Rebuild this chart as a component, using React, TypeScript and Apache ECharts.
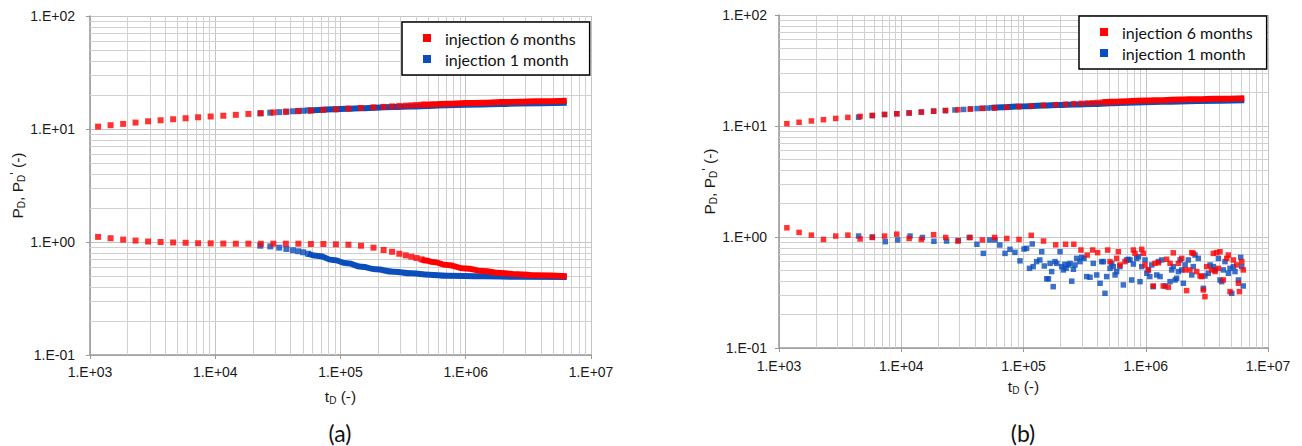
import React, { useEffect, useRef } from "react";
import * as echarts from "echarts";

// ---------- data ----------
const SERIES_6M = "injection 6 months";
const SERIES_1M = "injection 1 month";

// log-spaced time steps of the 6-month run (red discrete markers)
const redT = [1160, 1460, 1840, 2310, 2910, 3660, 4610, 5800, 7300, 9190, 11600, 14600, 18400, 23100, 29100, 36600, 46100, 58000, 73000, 91900, 115700, 145700, 183400, 221000, 258000, 295000, 332000, 368000, 404000, 443000];
// (a) red P_D and P_D' at those times
const aRedUpper = [10.5, 10.8, 11.1, 11.4, 11.7, 11.95, 12.2, 12.45, 12.7, 12.9, 13.1, 13.35, 13.6, 13.8, 14.0, 14.2, 14.4, 14.55, 14.75, 14.95, 15.15, 15.35, 15.55, 15.7, 15.85, 16.0, 16.1, 16.2, 16.3, 16.4];
const aRedLower = [1.11, 1.08, 1.05, 1.03, 1.01, 1.0, 0.99, 0.985, 0.975, 0.973, 0.968, 0.966, 0.966, 0.965, 0.966, 0.966, 0.966, 0.96, 0.96, 0.954, 0.947, 0.927, 0.891, 0.85, 0.82, 0.787, 0.762, 0.741, 0.721, 0.702];
// dense (overlapping) part of the red markers
const redBandT = [443000, 480000, 547000, 710000, 990000, 1370000, 1900000, 2640000, 3670000, 6400000];
const redBandUpper = [16.4, 16.45, 16.55, 16.75, 16.95, 17.1, 17.3, 17.45, 17.6, 17.8];
const aRedBandLower = [0.702, 0.685, 0.665, 0.626, 0.584, 0.553, 0.532, 0.518, 0.507, 0.497];

// 1-month run (blue)
const blueT = [22900, 27500, 32400, 37000, 41700, 46000, 50400, 54900];
const blueUpper = [13.75, 13.95, 14.1, 14.25, 14.35, 14.45, 14.5, 14.6];
const aBlueLower = [0.927, 0.914, 0.891, 0.867, 0.845, 0.828, 0.811, 0.787];
const blueBandT = [54900, 66900, 87000, 113000, 147000, 191000, 265000, 368000, 512000, 710000, 1370000, 2640000, 6400000];
const blueBandUpper = [14.6, 14.75, 14.95, 15.1, 15.3, 15.45, 15.65, 15.8, 16.0, 16.2, 16.5, 16.8, 17.05];
const aBlueBandLower = [0.787, 0.752, 0.693, 0.648, 0.604, 0.573, 0.546, 0.528, 0.514, 0.504, 0.497, 0.493, 0.49];

// (b) early blue P_D markers
const bBlueEarlyT = [4480, 5800, 7300, 9190, 11600, 14600, 18400];
const bBlueEarlyUpper = [12.0, 12.4, 12.7, 12.9, 13.1, 13.35, 13.6];

// (b) noisy derivative, red: [tD, PD']
const bRedLower: [number, number][] = [
  [1160, 1.21], [1460, 1.10], [1840, 1.04], [2310, 0.95], [2910, 1.02], [3660, 1.04], [4610, 0.96], [5800, 0.99],
  [7300, 1.02], [9190, 1.06], [11600, 0.97], [14600, 0.95], [18400, 1.05], [23100, 0.99], [29100, 0.92], [36600, 0.99],
  [46100, 0.94], [58000, 0.99], [73000, 0.97], [91900, 0.95], [115700, 1.035], [145700, 0.92], [183400, 0.85], [221000, 0.86],
  [258000, 0.86], [295000, 0.763], [332000, 0.688], [368000, 0.763], [404000, 0.723], [488000, 0.763], [510000, 0.60], [578000, 0.642],
  [597000, 0.737], [615000, 0.56], [676000, 0.60], [792000, 0.763], [817000, 0.712], [927000, 0.774], [955000, 0.712], [986000, 0.56],
  [1050000, 0.505], [1150000, 0.362], [1190000, 0.579], [1270000, 0.587], [1390000, 0.362], [1480000, 0.63], [1530000, 0.353], [1580000, 0.579],
  [1680000, 0.72], [1850000, 0.579], [1970000, 0.642], [2100000, 0.505], [2160000, 0.329], [2300000, 0.505], [2380000, 0.723], [2450000, 0.712],
  [2610000, 0.488], [2780000, 0.446], [2870000, 0.44], [2960000, 0.333], [3050000, 0.29], [3150000, 0.541], [3460000, 0.505], [3570000, 0.712],
  [3690000, 0.488], [3800000, 0.723], [3930000, 0.522], [4050000, 0.737], [4310000, 0.41], [4600000, 0.642], [4740000, 0.688], [4890000, 0.322],
  [5210000, 0.621], [5550000, 0.56], [5730000, 0.383], [5840000, 0.322], [6100000, 0.60], [6280000, 0.505],
];
// (b) noisy derivative, blue: [tD, PD']
const bBlueLower: [number, number][] = [
  [4480, 1.02], [5800, 1.0], [7400, 0.908], [9350, 0.94], [11800, 1.02], [14900, 0.99], [18500, 0.915], [23500, 0.92],
  [29300, 0.93], [36000, 0.99], [41600, 0.86], [46900, 0.712], [53000, 0.94], [58500, 0.94], [64000, 0.847], [70600, 0.712],
  [77500, 0.774], [85100, 0.727], [93600, 0.61], [101000, 0.78], [106000, 0.79], [112000, 0.522], [118000, 0.866], [120000, 0.541],
  [128000, 0.60], [136000, 0.621], [141000, 0.737], [148000, 0.548], [155000, 0.42], [160000, 0.42], [165000, 0.579], [170000, 0.488],
  [175000, 0.357], [181000, 0.60], [187000, 0.579], [199000, 0.737], [205000, 0.541], [212000, 0.505], [218000, 0.567], [223000, 0.522],
  [233000, 0.56], [240000, 0.579], [248000, 0.40], [256000, 0.512], [264000, 0.56], [272000, 0.642], [290000, 0.60], [299000, 0.655],
  [313000, 0.642], [329000, 0.44], [350000, 0.434], [372000, 0.579], [397000, 0.455], [423000, 0.383], [436000, 0.60], [450000, 0.60],
  [464000, 0.311], [479000, 0.44], [510000, 0.522], [526000, 0.579], [543000, 0.541], [561000, 0.455], [578000, 0.488], [615000, 0.541],
  [656000, 0.37], [698000, 0.621], [721000, 0.629], [744000, 0.621], [767000, 0.41], [792000, 0.571], [844000, 0.642], [871000, 0.665],
  [898000, 0.396], [927000, 0.541], [986000, 0.621], [1020000, 0.471], [1050000, 0.505], [1080000, 0.44], [1120000, 0.56], [1150000, 0.357],
  [1230000, 0.455], [1270000, 0.60], [1310000, 0.44], [1350000, 0.621], [1440000, 0.362], [1580000, 0.396], [1630000, 0.505], [1680000, 0.541],
  [1740000, 0.41], [1790000, 0.425], [1850000, 0.488], [1910000, 0.621], [1970000, 0.505], [2030000, 0.383], [2100000, 0.56], [2230000, 0.621],
  [2380000, 0.455], [2450000, 0.541], [2530000, 0.688], [2690000, 0.642], [2960000, 0.345], [3050000, 0.446], [3250000, 0.471], [3360000, 0.56],
  [3570000, 0.541], [3690000, 0.505], [3930000, 0.642], [4050000, 0.41], [4180000, 0.396], [4310000, 0.505], [4450000, 0.60], [4740000, 0.471],
  [4890000, 0.522], [5050000, 0.311], [5210000, 0.541], [5370000, 0.488], [5730000, 0.41], [5980000, 0.655], [6100000, 0.541], [6280000, 0.362],
];

// axis ranges and minor gridline positions
const X_MIN = 1e3, X_MAX = 1e7;
const Y_MIN = 0.1, Y_MAX = 100;
const minorMultipliers = [2, 3, 4, 5, 6, 7, 8, 9];
const xDecades = [1e3, 1e4, 1e5, 1e6];
const yDecades = [0.1, 1, 10];
const captions = ["(a)", "(b)"];

// ---------- styling ----------
const RED = "#ff0000";
const BLUE = "#0b4dbb";
const FONT = "'Liberation Sans', Arial, sans-serif";
const LEGEND_FONT = "Lato, 'Open Sans', sans-serif";
const TXT = "#1a1a1a";

const zip = (t: number[], v: number[]) => t.map((x, i) => [x, v[i]]);
const fmtExp = (v: number) => {
  const e = Math.round(Math.log10(v));
  return "1.E" + (e < 0 ? "-" : "+") + String(Math.abs(e)).padStart(2, "0");
};

const nameRich = {
  a: { fontSize: 15.5, lineHeight: 18, fontFamily: FONT, color: TXT },
  s: { fontSize: 10, lineHeight: 9, verticalAlign: "bottom", fontFamily: FONT, color: TXT },
  p: { fontSize: 13, lineHeight: 9, verticalAlign: "top", fontFamily: FONT, color: TXT },
};

const scatter = (name: string, data: any[], gi: number, color: string, size: number) => ({
  type: "scatter", name, xAxisIndex: gi, yAxisIndex: gi, data, symbol: "rect", symbolSize: size,
  itemStyle: { color }, z: 3, silent: true,
});
const band = (name: string, data: any[], gi: number, color: string, width: number) => ({
  type: "line", name, xAxisIndex: gi, yAxisIndex: gi, data, symbol: "none", showSymbol: false,
  smooth: true, smoothMonotone: "x", lineStyle: { color, width, cap: "butt" }, itemStyle: { color }, color,
  z: 3, silent: true,
});
const minorLines = (gi: number) => ({
  type: "line", xAxisIndex: gi, yAxisIndex: gi, data: [], silent: true,
  markLine: {
    silent: true, symbol: "none", z: 1, animation: false,
    label: { show: false },
    lineStyle: { color: "#d0d0d0", width: 1, type: "solid" },
    emphasis: { disabled: true },
    data: [
      ...xDecades.flatMap((d) => minorMultipliers.map((m) => ({ xAxis: m * d }))),
      ...yDecades.flatMap((d) => minorMultipliers.map((m) => ({ yAxis: m * d }))),
    ],
  },
});

const xAxisCfg = (gi: number, nameGap: number, labelMargin: number) => ({
  type: "log", logBase: 10, gridIndex: gi, min: X_MIN, max: X_MAX,
  name: "{a|t}{s|D}{a| (-)}", nameLocation: "middle", nameGap,
  nameTextStyle: { rich: nameRich },
  axisLine: { show: true, lineStyle: { color: "#999999", width: 1.5 } },
  axisTick: { show: true, length: 4, lineStyle: { color: "#999999" } },
  axisLabel: { formatter: fmtExp, fontSize: 14, fontFamily: FONT, color: TXT, margin: labelMargin },
  splitLine: { show: true, lineStyle: { color: "#c4c4c4", width: 1 } },
});
const yAxisCfg = (gi: number, nameGap: number, labelMargin: number) => ({
  type: "log", logBase: 10, gridIndex: gi, min: Y_MIN, max: Y_MAX,
  name: "{a|P}{s|D}{a|, P}{s|D}{p|'}{a| (-)}", nameLocation: "middle", nameGap, nameRotate: 90,
  nameTextStyle: { rich: nameRich },
  axisLine: { show: true, lineStyle: { color: "#999999", width: 1.5 } },
  axisTick: { show: true, length: 4, lineStyle: { color: "#999999" } },
  axisLabel: { formatter: fmtExp, fontSize: 14, fontFamily: FONT, color: TXT, margin: labelMargin },
  splitLine: { show: true, lineStyle: { color: "#c4c4c4", width: 1 } },
});

const legendCfg = (left: number, top: number) => ({
  orient: "vertical", left, top, icon: "rect", itemWidth: 8, itemHeight: 8, itemGap: 5,
  data: [SERIES_6M, SERIES_1M],
  padding: [8, 14, 8, 21], borderColor: "#000", borderWidth: 1.5, backgroundColor: "#fff",
  selectedMode: false,
  formatter: (n: string) => "{t|" + n + "}",
  textStyle: {
    fontFamily: LEGEND_FONT, fontSize: 16, color: "#111", lineHeight: 15,
    rich: { t: { fontFamily: LEGEND_FONT, fontSize: 16, color: "#111", lineHeight: 15, padding: [0, 0, 0, 9] } },
  },
  z: 10,
});

export default function App() {
  const ref = useRef<HTMLDivElement>(null);
  useEffect(() => {
    if (!ref.current) return;
    const chart = echarts.init(ref.current, undefined, { renderer: "svg" });
    chart.setOption({
      animation: false,
      backgroundColor: "#fff",
      textStyle: { fontFamily: FONT },
      grid: [
        { left: 90, top: 16, width: 501, height: 339 },
        { left: 779, top: 15, width: 489, height: 333 },
      ],
      xAxis: [xAxisCfg(0, 32, 10), xAxisCfg(1, 29, 11)],
      yAxis: [yAxisCfg(0, 63, 15), yAxisCfg(1, 60, 12)],
      legend: [legendCfg(402, 22), legendCfg(1079, 16)],
      graphic: captions.map((c, i) => ({
        type: "text", x: i === 0 ? 340 : 1023, y: 433,
        style: { text: c, fontSize: 23, fontFamily: LEGEND_FONT, fill: "#111", align: "center", verticalAlign: "middle" },
      })),
      series: [
        minorLines(0),
        minorLines(1),
        // (a)
        band(SERIES_1M, zip(blueBandT, blueBandUpper), 0, BLUE, 6),
        band(SERIES_1M, zip(blueBandT, aBlueBandLower), 0, BLUE, 6),
        scatter(SERIES_1M, [...zip(blueT, blueUpper), ...zip(blueT, aBlueLower)], 0, BLUE, 6),
        band(SERIES_6M, zip(redBandT, redBandUpper), 0, RED, 6),
        band(SERIES_6M, zip(redBandT, aRedBandLower), 0, RED, 6),
        scatter(SERIES_6M, [...zip(redT, aRedUpper), ...zip(redT, aRedLower)], 0, RED, 6),
        // (b)
        band(SERIES_1M, zip(blueBandT, blueBandUpper), 1, BLUE, 6),
        scatter(SERIES_1M, [...zip(bBlueEarlyT, bBlueEarlyUpper), ...zip(blueT, blueUpper), ...bBlueLower], 1, BLUE, 5.5),
        band(SERIES_6M, zip(redBandT, redBandUpper), 1, RED, 6),
        scatter(SERIES_6M, [...zip(redT, aRedUpper), ...bRedLower], 1, RED, 5.5),
      ],
    });
    return () => chart.dispose();
  }, []);
  return (
    <div
      ref={ref}
      style={{ position: "fixed", left: 0, top: 0, width: 1302, height: 446, background: "#fff" }}
    />
  );
}
